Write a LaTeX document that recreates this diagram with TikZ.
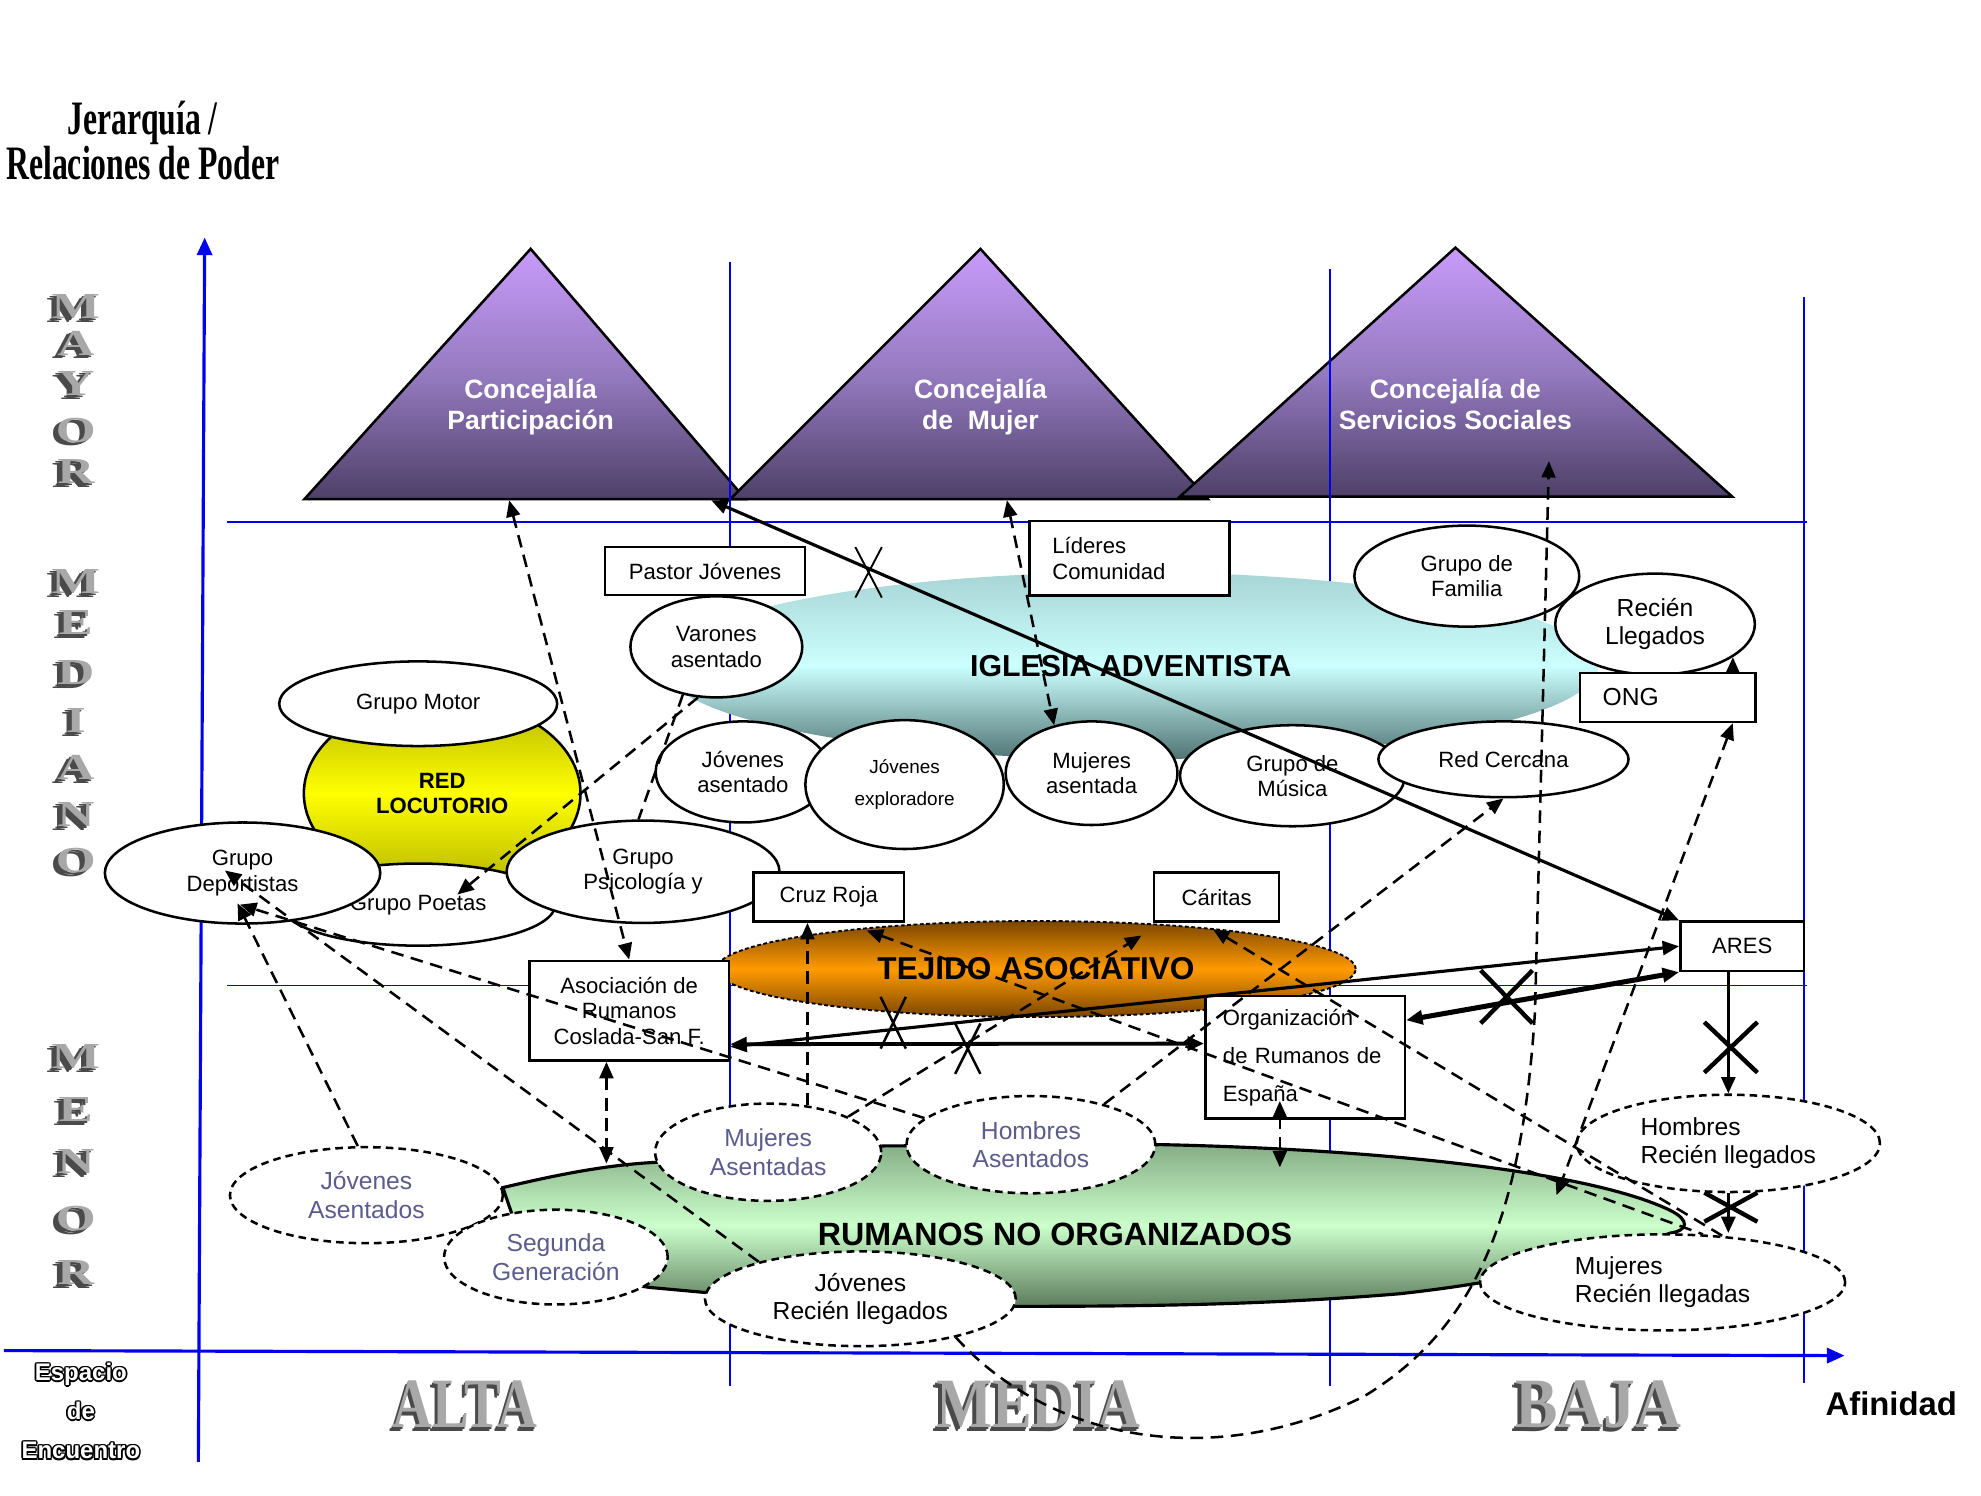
\documentclass[tikz,border=0pt]{standalone}
\usepackage{graphicx}
\usepackage{xcolor}
\usepackage{fontspec}
\setmainfont{Liberation Sans}
\newfontfamily\titlefont{Liberation Serif}
\usepackage{tikz}
\usetikzlibrary{shapes.geometric, positioning, arrows.meta, calc}

\definecolor{trilight}{HTML}{C89BFA}
\definecolor{trimid}{HTML}{957AC0}
\definecolor{tridark}{HTML}{4E4068}
\definecolor{churchtop}{HTML}{A8D4D4}
\definecolor{churchmid}{HTML}{CCFFFF}
\definecolor{churchbot}{HTML}{4F7373}
\definecolor{orgtop}{HTML}{7A4600}
\definecolor{orgmid}{HTML}{FF9A00}
\definecolor{greentop}{HTML}{86AE86}
\definecolor{greenmid}{HTML}{CCFFCC}
\definecolor{greenbot}{HTML}{5C7C5C}
\definecolor{yeltop}{HTML}{B4B400}
\definecolor{yelmid}{HTML}{FFFF00}
\definecolor{bubbletext}{HTML}{5C5C8C}
\definecolor{facegray}{HTML}{A8A8A8}
\definecolor{edgegray}{HTML}{4A4A4A}
\definecolor{gridblue}{HTML}{0000F0}

\newcommand\normtxt{\fontsize{17.5}{20}\selectfont}
\newcommand\smalltxt{\fontsize{15}{25}\selectfont}
\newcommand\bubtxt{\fontsize{19.5}{22.5}\selectfont}
\newcommand\bigtxt{\bfseries\fontsize{25}{30}\selectfont}

\newcommand\extruded[1]{\leavevmode
  \rlap{\kern-3pt\raisebox{-3pt}{\textcolor{edgegray}{#1}}}%
  \rlap{\kern-1.5pt\raisebox{-1.5pt}{\textcolor{edgegray}{#1}}}%
  \textcolor{facegray}{#1}}
\newcommand\outlined[1]{\leavevmode
  \rlap{\kern-1.3pt\textcolor{black}{#1}}%
  \rlap{\kern1.3pt\textcolor{black}{#1}}%
  \rlap{\raisebox{1.3pt}{\textcolor{black}{#1}}}%
  \rlap{\raisebox{-1.3pt}{\textcolor{black}{#1}}}%
  \rlap{\kern-0.9pt\raisebox{0.9pt}{\textcolor{black}{#1}}}%
  \rlap{\kern0.9pt\raisebox{0.9pt}{\textcolor{black}{#1}}}%
  \rlap{\kern-0.9pt\raisebox{-0.9pt}{\textcolor{black}{#1}}}%
  \rlap{\kern0.9pt\raisebox{-0.9pt}{\textcolor{black}{#1}}}%
  \textcolor{white}{#1}}

\begin{document}
\begin{tikzpicture}[
x=1pt, y=-1pt,
    >={Triangle[length=13pt,width=11pt]},
    tri/.style={draw, line width=2pt, top color=trilight, bottom color=tridark, middle color=trimid},
    trilabel/.style={text=white, align=center, font=\bfseries\fontsize{21}{25}\selectfont},
    box/.style={draw, rectangle, line width=2pt, fill=white, inner sep=0pt, align=center, font=\normtxt},
    bubble/.style={draw, ellipse, line width=2pt, fill=white, inner sep=0pt, align=center, font=\normtxt},
    dbubble/.style={bubble, dash pattern=on 6pt off 4pt, text=bubbletext, font=\bubtxt},
    gridline/.style={gridblue, line width=1.5pt},
    axis/.style={gridblue, line width=2.5pt, -{Triangle[length=14pt,width=12pt]}},
    tie/.style={line width=2.5pt},
    link/.style={line width=2pt, dash pattern=on 10pt off 6pt},
    cross/.style={line width=2pt},
    sidelet/.style={inner sep=0pt, font=\titlefont\bfseries\fontsize{29}{29}\selectfont},
    bigword/.style={inner sep=0pt, font=\titlefont\bfseries\fontsize{56}{56}\selectfont}
]
\useasboundingbox (0,0) rectangle (1568,1184);

    % --- Upper Level: Concejalias ---
    \draw[tri] (241,395) -- (420,197) -- (590,395) -- cycle;
    \draw[tri] (578,395) -- (776,197) -- (956,395) -- cycle;
    \draw[tri] (934,393) -- (1152,196) -- (1371,393) -- cycle;
    \node[trilabel] (cpart) at (420,322) {Concejalía\\Participación};
    \node[trilabel] (cmuj) at (776,322) {Concejalía\\de\ \ Mujer};
    \node[trilabel] (csoc) at (1152,320) {Concejalía de\\Servicios Sociales};
    \coordinate (cpartb) at (403,396);
    \coordinate (cjoin) at (563,396);
    \coordinate (cmujb) at (797,396);
    \coordinate (csocb) at (1226,365);

    % --- Grid and axes ---
    \draw[gridline] (180,413) -- (1430,413);
    \draw[gridline] (180,780) -- (1430,780);
    \draw[gridline] (578,207) -- (578,1097);
    \draw[gridline] (1053,213) -- (1053,1097);
    \draw[gridline] (1428,235) -- (1428,1095);
    \draw[axis] (157,1157) -- (162,188);
    \draw[axis] (3,1069) -- (1460,1073);

    % --- Axis titles ---
    \node[align=center, font=\titlefont\bfseries\fontsize{38}{32}\selectfont] (titulo) at (113,111)
        {\scalebox{0.66}[1]{Jerarquía /}\\\scalebox{0.66}[1]{Relaciones de Poder}};
    \foreach \ch/\yy [count=\k] in {M/244, A/273, Y/305, O/342, R/375}
        \node[sidelet] (may\k) at (60,\yy) {\scalebox{1.4}[1]{\extruded{\ch}}};
    \foreach \ch/\yy [count=\k] in {M/462, E/494, D/534, I/572, A/609, N/646, O/683}
        \node[sidelet] (med\k) at (60,\yy) {\scalebox{1.4}[1]{\extruded{\ch}}};
    \foreach \ch/\yy [count=\k] in {M/838, E/880, N/921, O/966, R/1009}
        \node[sidelet] (men\k) at (60,\yy) {\scalebox{1.4}[1]{\extruded{\ch}}};
    \node[bigword] (alta) at (368,1113) {\scalebox{0.78}[1]{\extruded{ALTA}}};
    \node[bigword] (media) at (822,1113) {\scalebox{0.84}[1]{\extruded{MEDIA}}};
    \node[bigword] (baja) at (1265,1113) {\scalebox{0.9}[1]{\extruded{BAJA}}};
    \node[font=\bfseries\fontsize{26}{30}\selectfont] (afin) at (1497,1111) {Afinidad};
    \node[align=center, font=\bfseries\fontsize{19}{31}\selectfont] (espacio) at (64,1117)
        {\outlined{Espacio}\\\outlined{de}\\\outlined{Encuentro}};

    % --- Iglesia Adventista ---
    \node[ellipse, top color=churchtop, bottom color=churchbot, middle color=churchmid,
        minimum width=740, minimum height=148, inner sep=0pt,
        font=\bfseries\fontsize{24}{28}\selectfont] (iglesia) at (895,527) {IGLESIA ADVENTISTA};
    \node[box, minimum width=158, minimum height=38] (pastor) at (558,452) {Pastor Jóvenes};
    \node[box, minimum width=158, minimum height=59, text width=122, align=left] (lideres) at (894,442) {Líderes\\Comunidad};
    \node[bubble, minimum width=136, minimum height=80] (varones) at (567,512) {Varones\\asentado};
    \node[bubble, minimum width=178, minimum height=80] (familia) at (1161,456) {Grupo de\\Familia};
    \node[bubble, minimum width=158, minimum height=80, font=\bubtxt] (recien) at (1310,494) {Recién\\Llegados};
    \node[box, minimum width=139, minimum height=39, text width=103, align=left, font=\bubtxt] (ong) at (1320,552) {ONG};
    \node[bubble, minimum width=138, minimum height=80] (jasent) at (588,611) {Jóvenes\\asentado};
    \node[bubble, minimum width=157, minimum height=102, font=\smalltxt] (jexpl) at (716,621) {Jóvenes\\exploradore};
    \node[bubble, minimum width=136, minimum height=82] (mujas) at (864,612) {Mujeres\\asentada};
    \node[bubble, minimum width=178, minimum height=80] (musica) at (1023,614) {Grupo de\\Música};
    \node[bubble, minimum width=198, minimum height=60] (cercana) at (1190,601) {Red Cercana};

    % --- Red Locutorio ---
    \node[ellipse, draw, line width=2pt, top color=yeltop, bottom color=yeltop, middle color=yelmid,
        minimum width=219, minimum height=150, inner sep=0pt, align=center,
        font=\bfseries\normtxt] (locutorio) at (350,628) {RED\\LOCUTORIO};
    \node[bubble, minimum width=220, minimum height=67] (motor) at (331,557) {Grupo Motor};
    \node[bubble, minimum width=217, minimum height=65] (poetas) at (331,716) {Grupo Poetas};
    \node[bubble, minimum width=218, minimum height=80] (deport) at (192,691) {Grupo\\Deportistas};
    \node[bubble, minimum width=216, minimum height=81] (psico) at (509,690) {Grupo\\Psicología y};

    % --- Tejido Asociativo ---
    \node[ellipse, draw, line width=1.5pt, dash pattern=on 3pt off 2pt,
        top color=orgtop, bottom color=orgtop, middle color=orgmid,
        minimum width=506, minimum height=76, inner sep=0pt, font=\bigtxt] (tejido) at (820,767) {TEJIDO ASOCIATIVO};
    \node[box, minimum width=119, minimum height=39] (cruz) at (656,710) {Cruz Roja};
    \node[box, minimum width=99, minimum height=39] (caritas) at (963,710) {Cáritas};
    \node[box, minimum width=98, minimum height=39] (ares) at (1379,749) {ARES};
    \node[box, minimum width=158, minimum height=79] (asoc) at (498,800) {Asociación de\\Rumanos\\Coslada-San F.};
    \node[box, minimum width=158, minimum height=97, text width=130, align=left,
        font=\fontsize{17.5}{30}\selectfont] (orgesp) at (1033,837) {Organización\\de Rumanos de\\España};

    % --- Rumanos no organizados ---
    \draw[line width=2.5pt, top color=greentop, bottom color=greenbot, middle color=greenmid]
        (398,940) .. controls (440,930) and (480,922) .. (519,920) -- (700,907) -- (920,906)
        .. controls (1100,910) and (1260,928) .. (1322,958)
        .. controls (1338,966) and (1336,974) .. (1322,976)
        .. controls (1250,1003) and (1180,1016) .. (1108,1024)
        .. controls (1000,1033) and (900,1034) .. (803,1034)
        -- (558,1023) -- (514,1019) -- (420,1004) -- cycle;
    \node[font=\bfseries\fontsize{25.5}{30}\selectfont] (rumanos) at (835,977) {RUMANOS NO ORGANIZADOS};
    \coordinate (rnoA) at (480,921);
    \coordinate (rnoB) at (1013,924);
    \coordinate (rnoC) at (1232,946);
    \node[dbubble, minimum width=216, minimum height=76] (jovas) at (290,946) {Jóvenes\\Asentados};
    \node[dbubble, minimum width=177, minimum height=75] (segunda) at (440,995) {Segunda\\Generación};
    \node[dbubble, minimum width=179, minimum height=77] (mujasd) at (608,912) {Mujeres\\Asentadas};
    \node[dbubble, minimum width=197, minimum height=77] (homas) at (816,906) {Hombres\\Asentados};
    \node[dbubble, text=black, minimum width=246, minimum height=75] (jovrl) at (681,1028) {Jóvenes\\Recién llegados};
    \node[dbubble, text=black, align=left, minimum width=240, minimum height=77] (homrl) at (1368,905) {Hombres\\Recién llegados};
    \node[dbubble, text=black, align=left, minimum width=289, minimum height=76] (mujrl) at (1316,1015) {Mujeres\\Recién llegadas};

    % --- Solid ties ---
    \draw[tie, <->] (cjoin) -- (ares.north west);
    \draw[tie, <->] ($(asoc.south east)+(0,-12)$) -- (ares.west);
    \draw[tie, line width=4pt, <->] ($(orgesp.north east)+(0,20)$) -- (ares.south west);
    \draw[tie, line width=3pt, <->] ($(asoc.south east)+(0,-14)$) -- ($(orgesp.west)+(0,-11)$);
    \draw[tie, ->] (homrl.north |- ares.south) -- (homrl.north);
    \draw[tie, ->] (homrl.south) -- (homrl.south |- mujrl.north);
    \draw[tie, ->] ($(ong.north east)+(-19,0)$) -- (recien.-23);

    % --- Dashed links ---
    \draw[link, <->] (cpartb) -- (asoc.north);
    \draw[link, <->] (cmujb) -- (mujas.128);
    \draw[link, ->] (jovrl.-22) .. controls (830,1140) and (960,1165) .. (1080,1105)
        .. controls (1170,1050) and (1205,960) .. (1215,800) -- (csocb);
    \draw[link, <->] ($(ong.south east)+(-19,0)$) -- (rnoC);
    \draw[link, ->] (jovas.100) -- ($(deport.center)+(-4,24)$);
    \draw[link, ->] (jovrl.160) -- ($(deport.center)+(-14,-2)$);
    \draw[link, ->] (homas.166) -- ($(deport.center)+(-2,25)$);
    \draw[link, ->] (varones.250) -- ($(poetas.center)+(31,-8)$);
    \draw[link] (varones.235) -- (psico.95);
    \draw[link, <->] ($(asoc.south)+(-18,0)$) -- (rnoA);
    \draw[link, <->] ($(orgesp.south)+(-20,-15)$) -- (rnoB);
    \draw[link, ->] (mujasd.50) -- (mujasd.50 |- cruz.south);
    \draw[link, <-] ($(cruz.south)+(30,6)$) -- (mujrl.50);
    \draw[link, ->] (mujasd.24) -- ($(caritas.south west)+(-9,10)$);
    \draw[link, <-] ($(caritas.south)+(-3,5)$) -- (mujrl.38);
    \draw[link, ->] (homas.29) -- (cercana.south);

    % --- Broken relations ---
    \draw[cross, line width=1.5pt] (677,433) -- (698,473) (698,433) -- (677,473);
    \draw[cross] (697,789) -- (717,830) (717,789) -- (697,830);
    \draw[cross] (756,810) -- (776,850) (776,810) -- (756,850);
    \draw[cross, line width=3.5pt] (1172,768) -- (1213,810) (1213,768) -- (1172,810);
    \draw[cross, line width=3.5pt] (1349,809) -- (1391,849) (1391,809) -- (1349,849);
    \draw[cross, line width=3.5pt] (1349,944) -- (1391,967) (1391,944) -- (1349,967);

\end{tikzpicture}
\end{document}
